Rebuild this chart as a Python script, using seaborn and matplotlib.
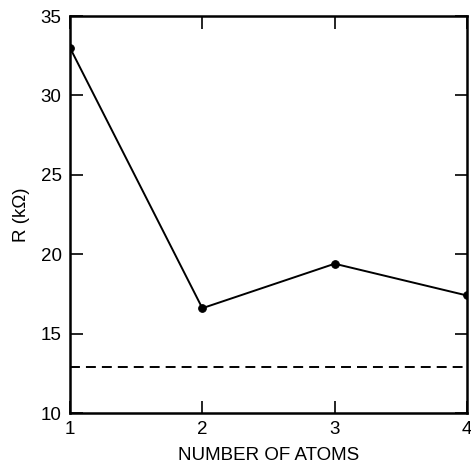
import matplotlib
matplotlib.use("Agg")
import matplotlib.pyplot as plt
import seaborn as sns
import pandas as pd

atoms = [1, 2, 3, 4]
resistance = [33.0, 16.6, 19.4, 17.4]
reference_level = 12.9
x_ticks = [1, 2, 3, 4]
y_ticks = [10, 15, 20, 25, 30, 35]

sns.set_theme(style="ticks")
plt.rcParams['font.family'] = ['Liberation Sans', 'DejaVu Sans']

df = pd.DataFrame({"atoms": atoms, "R": resistance})

fig = plt.figure(figsize=(4.71, 4.68), dpi=100)
ax = fig.add_axes([0.1486, 0.1175, 0.8429, 0.8483])

sns.lineplot(data=df, x="atoms", y="R", ax=ax, color="black", linewidth=1.4,
             marker="o", markersize=5.5, markeredgecolor="black", markerfacecolor="black")
ax.axhline(reference_level, color="black", linestyle=(0, (5.1, 3.1)), linewidth=1.4)

ax.set_xlim(1, 4)
ax.set_ylim(10, 35)
ax.set_xticks(x_ticks)
ax.set_yticks(y_ticks)
ax.set_xticklabels([str(t) for t in x_ticks])
ax.set_yticklabels([str(t) for t in y_ticks])
ax.tick_params(direction="in", length=9, width=1.2, top=True, right=True,
               labelsize=13.5, colors="black", pad=6)
for s in ax.spines.values():
    s.set_linewidth(1.8)
    s.set_color("black")
    s.set_visible(True)
ax.set_xlabel("NUMBER OF ATOMS", fontsize=13.5, labelpad=6, color="black")
ax.set_ylabel("R (kΩ)", fontsize=13.5, labelpad=8, color="black")

fig.savefig("out.png", dpi=100)
